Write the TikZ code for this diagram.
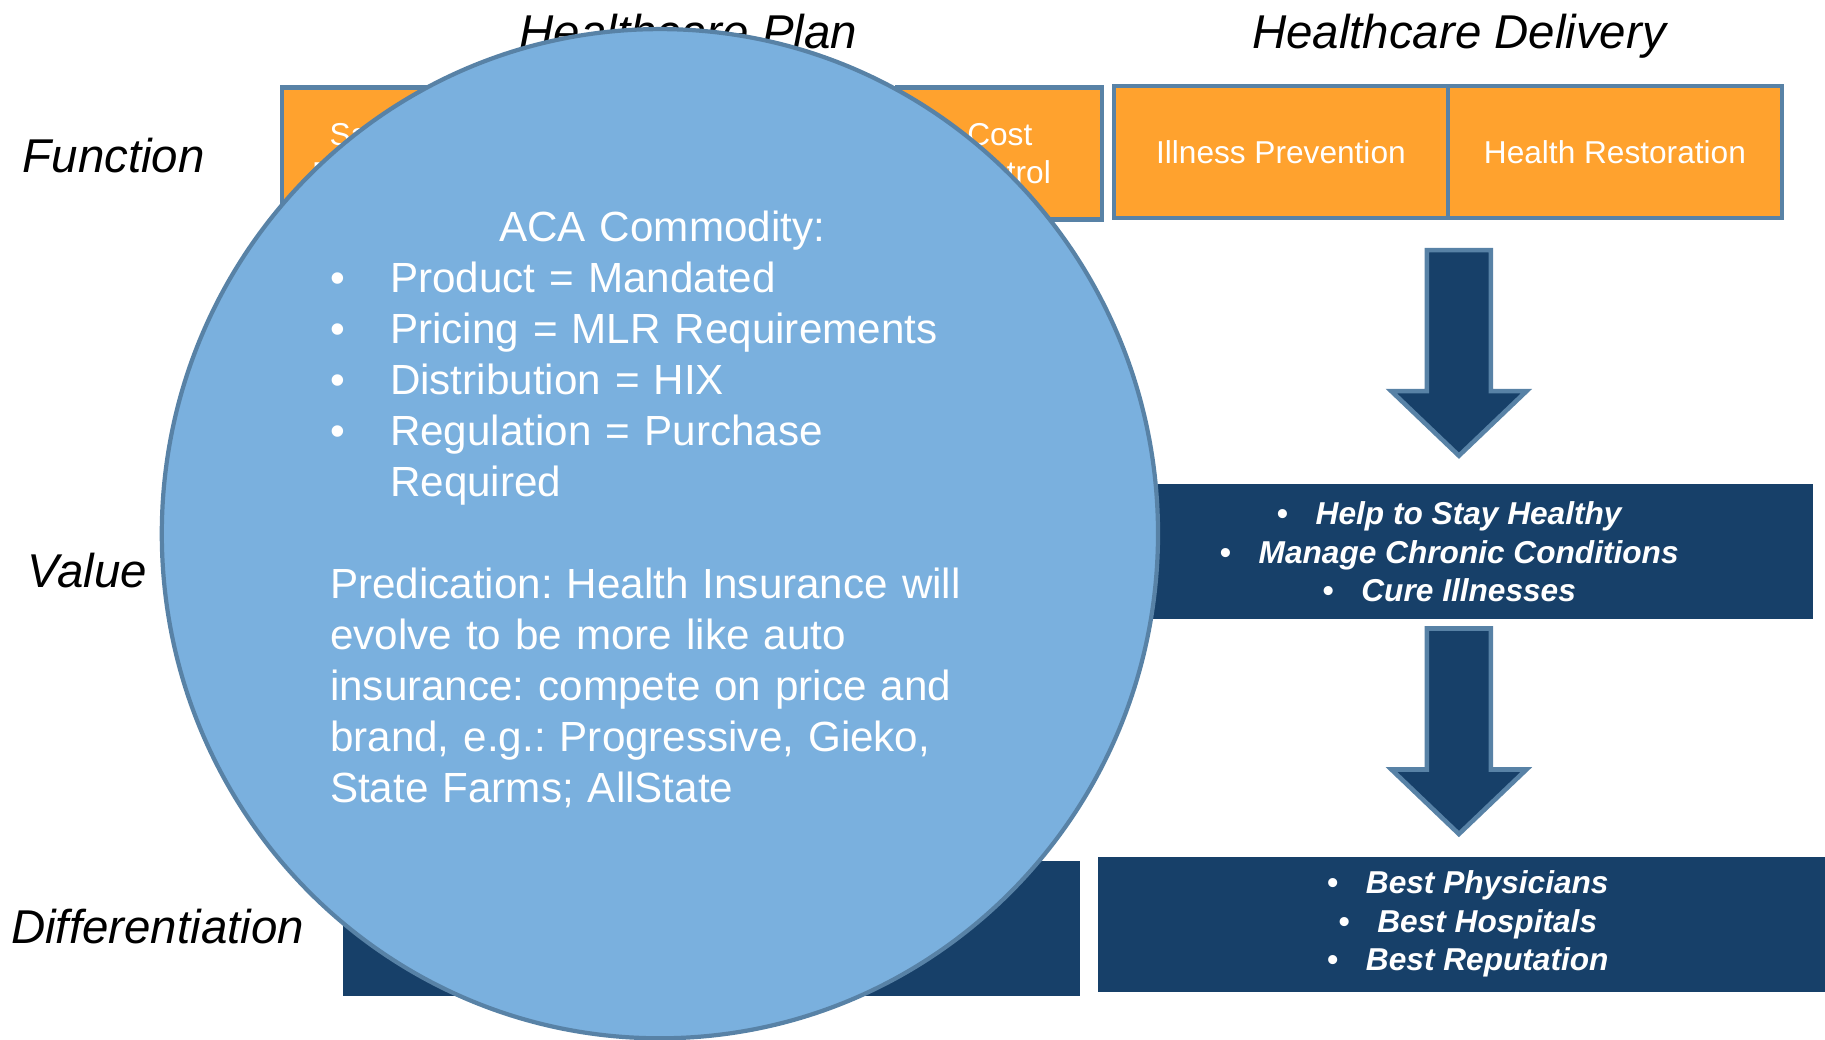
\documentclass[tikz,border=0pt]{standalone}
\usepackage{fontspec}
\setmainfont{Liberation Sans}
\usetikzlibrary{positioning}

\definecolor{planorange}{RGB}{255,162,46}
\definecolor{edgeblue}{RGB}{88,130,166}
\definecolor{navy}{RGB}{23,64,105}
\definecolor{bubble}{RGB}{122,176,222}

\tikzset{
  func/.style={draw=edgeblue, line width=1.2pt, fill=planorange, text=white, outer sep=0pt,
    minimum height=1.32cm, align=center, font=\fontsize{9}{10.9}\selectfont},
  val/.style={fill=navy, text=white, minimum height=1.35cm, align=center,
    font=\fontsize{9}{10.9}\selectfont\bfseries\itshape},
  rowlabel/.style={anchor=base west, inner sep=0pt, font=\fontsize{13.5}{16}\selectfont\itshape},
  coltitle/.style={anchor=base, font=\fontsize{13.5}{16}\selectfont\itshape},
  blockarrow/.style={draw=edgeblue, line width=1.3pt, fill=navy, line join=miter},
}

\begin{document}
\begin{tikzpicture}
\useasboundingbox (0,0) rectangle (18.25,10.39);

% column titles and row labels
\node[coltitle] (plantitle) at (6.885,9.907) {Healthcare Plan};
\node[coltitle] (deltitle) at (14.590,9.907) {Healthcare Delivery};
\node[rowlabel] (funclabel) at (0.220,8.668) {Function};
\node[rowlabel] (vallabel) at (0.270,4.512) {Value};
\node[rowlabel] (difflabel) at (0.105,0.951) {Differentiation};

% function row
\node[func, minimum width=2.048cm] (spbox) at (3.841,8.854) {Sales \&\\Promotion};
\node[func, minimum width=2.048cm] (ccbox) at (9.998,8.854) {Cost\\Control};
\node[func, minimum width=3.340cm] (ipbox) at (12.809,8.871) {Illness Prevention};
\node[func, minimum width=3.340cm, right=0pt of ipbox] (hrbox) {Health Restoration};

% value and differentiation rows
\node[val, minimum width=7.286cm] (hvbox) at (14.491,4.873)
  {\textbullet\hspace{0.28cm}Help to Stay Healthy\\
   \textbullet\hspace{0.28cm}Manage Chronic Conditions\\
   \textbullet\hspace{0.28cm}Cure Illnesses};
\node[val, minimum width=7.368cm] (pdbox) at (7.117,1.108) {};
\node[val, minimum width=7.402cm] (hdbox) at (14.677,1.149)
  {\textbullet\hspace{0.28cm}Best Physicians\\
   \textbullet\hspace{0.28cm}Best Hospitals\\
   \textbullet\hspace{0.28cm}Best Reputation};

% block arrows down the delivery column
\foreach \ya in {7.888,4.105}
  \draw[blockarrow, shift={(14.589,\ya)}] (-0.32,0) -- (0.32,0) -- (0.32,-1.41)
    -- (0.675,-1.41) -- (0,-2.055) -- (-0.675,-1.41) -- (-0.32,-1.41) -- cycle;

% the commodity bubble
\draw[draw=edgeblue, line width=1.2pt, fill=bubble] (6.599,5.053) ellipse [x radius=4.981cm, y radius=5.046cm];
\node[anchor=base west, text width=6.64cm, inner sep=0pt, text=white,
  font=\fontsize{12}{14.5}\selectfont] (acatext) at (3.294,7.974) {%
  \parindent=0pt\frenchspacing
  {\centering ACA Commodity:\par}
  \raggedright
  \makebox[0.6cm][l]{\textbullet}Product = Mandated\par
  \makebox[0.6cm][l]{\textbullet}Pricing = MLR Requirements\par
  \makebox[0.6cm][l]{\textbullet}Distribution = HIX\par
  \makebox[0.6cm][l]{\textbullet}Regulation = Purchase\par
  \hspace*{0.6cm}Required\par
  \vspace{14.5pt}
  Predication: Health Insurance will\\
  evolve to be more like auto\\
  insurance: compete on price and\\
  brand, e.g.: Progressive, Gieko,\\
  State Farms; AllState\par};
\end{tikzpicture}
\end{document}
